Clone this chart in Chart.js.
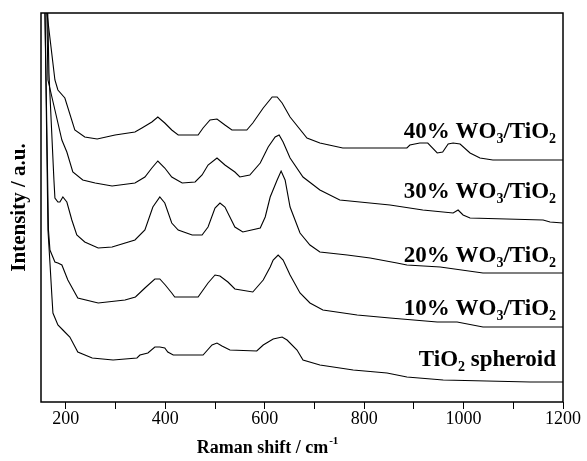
<!DOCTYPE html>
<html>
<head>
<meta charset="utf-8">
<script src="https://cdn.jsdelivr.net/npm/chart.js@4/dist/chart.umd.min.js"></script>
<style>
  html, body { margin: 0; padding: 0; background: #fff; }
  canvas { display: block; }
</style>
</head>
<body>
<canvas id="myChart" width="587" height="461"></canvas>
<script>
// Raman spectra, stacked (intensity in arbitrary units, offset per sample)

const xTicks = [200, 400, 600, 800, 1000, 1200];
const xTickMarks = [200, 300, 400, 500, 600, 700, 800, 900, 1000, 1100, 1200];

const shiftTi = [155, 158, 164, 168, 172, 174, 184, 194, 208, 224, 253, 295, 343, 349, 365, 379, 389, 399, 405, 416, 476, 494, 504, 514, 530, 584, 597, 617, 635, 645, 665, 677, 711, 778, 846, 886, 959, 1134, 1200];
const intTi = [600, 390, 173, 140, 106, 90, 78, 73, 66, 51, 45, 43, 45, 48, 50, 56, 56, 55, 51, 48, 48, 58, 60, 57, 53, 52, 58, 64, 66, 63, 53, 43, 38, 33, 30, 26, 23, 21, 21];

const shift10 = [155, 158, 165, 168, 178, 184, 192, 204, 224, 265, 319, 340, 359, 379, 389, 400, 413, 419, 466, 486, 500, 510, 526, 540, 576, 597, 611, 617, 627, 637, 651, 671, 691, 717, 786, 852, 947, 987, 1039, 1200];
const int10 = [600, 390, 173, 153, 141, 140, 138, 123, 105, 100, 103, 106, 115, 124, 124, 118, 110, 106, 106, 120, 128, 127, 121, 114, 111, 123, 136, 143, 148, 143, 128, 110, 100, 93, 88, 85, 81, 81, 76, 76];

const shift20 = [155, 166, 176, 178, 184, 188, 194, 202, 212, 222, 238, 265, 293, 339, 359, 375, 389, 399, 413, 426, 454, 474, 486, 500, 510, 520, 540, 556, 591, 601, 611, 625, 633, 641, 651, 671, 691, 711, 766, 812, 866, 886, 953, 1039, 1200];
const int20 = [600, 330, 223, 205, 201, 201, 206, 201, 183, 168, 161, 155, 156, 163, 173, 196, 206, 200, 180, 173, 168, 168, 176, 195, 200, 196, 176, 171, 175, 186, 206, 223, 232, 223, 196, 170, 158, 151, 148, 145, 140, 138, 136, 130, 130];

const shift30 = [155, 164, 178, 192, 202, 214, 234, 259, 293, 339, 359, 373, 385, 399, 413, 434, 460, 474, 486, 504, 520, 540, 550, 570, 591, 607, 621, 629, 637, 651, 677, 711, 751, 852, 918, 979, 989, 999, 1013, 1160, 1174, 1200];
const int30 = [600, 323, 293, 263, 251, 231, 223, 220, 217, 220, 226, 235, 242, 235, 226, 220, 221, 228, 238, 245, 238, 231, 226, 228, 240, 256, 266, 268, 261, 245, 226, 213, 203, 198, 193, 190, 193, 188, 185, 183, 181, 180];

const shift40 = [155, 162, 178, 184, 198, 218, 238, 263, 299, 339, 353, 373, 385, 399, 413, 426, 466, 476, 490, 504, 520, 534, 564, 576, 597, 615, 625, 635, 651, 685, 711, 757, 886, 892, 912, 928, 947, 958, 969, 979, 993, 1013, 1033, 1059, 1200];
const int40 = [600, 390, 323, 313, 305, 273, 266, 264, 268, 271, 275, 281, 286, 280, 273, 268, 268, 275, 283, 284, 278, 273, 273, 280, 295, 306, 306, 300, 286, 265, 260, 255, 255, 258, 260, 260, 250, 251, 259, 260, 259, 250, 245, 243, 243];

// sample names, drawn next to their curves: [text, subscript] parts
const sampleLabels = [
  [["40% WO", false], ["3", true], ["/TiO", false], ["2", true]],
  [["30% WO", false], ["3", true], ["/TiO", false], ["2", true]],
  [["20% WO", false], ["3", true], ["/TiO", false], ["2", true]],
  [["10% WO", false], ["3", true], ["/TiO", false], ["2", true]],
  [["TiO", false], ["2", true], [" spheroid", false]],
];

function pts(xs, ys) {
  return xs.map((x, i) => ({ x: x, y: ys[i] }));
}

function series(label, xs, ys) {
  return {
    label: label,
    data: pts(xs, ys),
    borderColor: "#000",
    borderWidth: 1.1,
    pointRadius: 0,
    tension: 0,
    fill: false,
  };
}

// label anchors (right edge, baseline) in data units
const labelAnchorX = 1186;
const labelBaseY = [265, 205, 141, 88, 37];

const decorPlugin = {
  id: "decor",
  afterDraw(chart) {
    const c = chart.ctx;
    const a = chart.chartArea;
    const xs = chart.scales.x;
    const ys = chart.scales.y;
    c.save();
    // frame
    c.strokeStyle = "#000";
    c.lineWidth = 1.5;
    c.strokeRect(a.left, a.top, a.right - a.left, a.bottom - a.top);

    // sample labels
    c.fillStyle = "#000";
    c.textBaseline = "alphabetic";
    c.textAlign = "left";
    const big = "bold 23px 'Liberation Serif'";
    const small = "bold 14px 'Liberation Serif'";
    sampleLabels.forEach((parts, i) => {
      let w = 0;
      parts.forEach(([t, sub]) => {
        c.font = sub ? small : big;
        w += c.measureText(t).width;
      });
      let px = xs.getPixelForValue(labelAnchorX) - w;
      const py = ys.getPixelForValue(labelBaseY[i]);
      parts.forEach(([t, sub]) => {
        c.font = sub ? small : big;
        c.fillText(t, px, sub ? py + 5 : py);
        px += c.measureText(t).width;
      });
    });

    // x axis title with superscript
    const t1 = "Raman shift / cm";
    const t2 = "-1";
    c.font = "bold 18px 'Liberation Serif'";
    const w1 = c.measureText(t1).width;
    c.font = "bold 11px 'Liberation Serif'";
    const w2 = c.measureText(t2).width;
    let tx = 267 - (w1 + w2) / 2;
    c.font = "bold 18px 'Liberation Serif'";
    c.fillText(t1, tx, 453);
    c.font = "bold 11px 'Liberation Serif'";
    c.fillText(t2, tx + w1 + 1, 444);
    c.restore();
  },
};

const ctx = document.getElementById("myChart");

new Chart(ctx, {
  type: "line",
  data: {
    datasets: [
      series("40% WO3/TiO2", shift40, int40),
      series("30% WO3/TiO2", shift30, int30),
      series("20% WO3/TiO2", shift20, int20),
      series("10% WO3/TiO2", shift10, int10),
      series("TiO2 spheroid", shiftTi, intTi),
    ],
  },
  plugins: [decorPlugin],
  options: {
    responsive: false,
    maintainAspectRatio: false,
    animation: false,
    layout: { padding: { top: 13, right: 24, left: 0, bottom: 0 } },
    plugins: {
      legend: { display: false },
      tooltip: { enabled: false },
    },
    scales: {
      x: {
        type: "linear",
        min: 150,
        max: 1200,
        afterBuildTicks: (scale) => {
          scale.ticks = xTickMarks.map((v) => ({ value: v }));
        },
        afterFit: (scale) => {
          scale.height = 59;
        },
        ticks: {
          autoSkip: false,
          maxRotation: 0,
          padding: -1,
          color: "#000",
          font: { family: "'Liberation Serif'", size: 18 },
          callback: (v) => (xTicks.includes(v) ? String(v) : ""),
        },
        grid: {
          display: true,
          drawOnChartArea: false,
          drawTicks: true,
          tickLength: 7,
          color: "#000",
          lineWidth: 1,
        },
        border: { display: false },
      },
      y: {
        min: 1,
        max: 390,
        afterFit: (scale) => {
          scale.width = 41;
        },
        ticks: { display: false },
        grid: { display: false },
        border: { display: false },
        title: {
          display: true,
          text: "Intensity / a.u.",
          color: "#000",
          padding: { top: 7, bottom: 0 },
          font: { family: "'Liberation Serif'", size: 21, weight: "bold" },
        },
      },
    },
  },
});
</script>
</body>
</html>
